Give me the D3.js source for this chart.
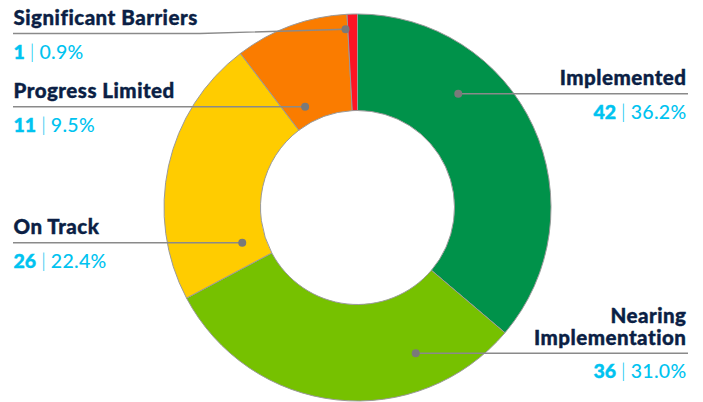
<!DOCTYPE html>
<html><head><meta charset="utf-8">
<script src="https://cdn.jsdelivr.net/npm/d3@7"></script>
<style>html,body{margin:0;padding:0;background:#fff;}svg{display:block;}</style>
</head><body>
<svg id="chart" width="703" height="402"></svg>
<script>
// ---- data ----
const categories = ["Implemented", "Nearing Implementation", "On Track", "Progress Limited", "Significant Barriers"];
const counts = [42, 36, 26, 11, 1];
const percentLabels = ["36.2%", "31.0%", "22.4%", "9.5%", "0.9%"];
const colors = ["#00924a", "#76c100", "#ffcc00", "#fa7c00", "#fe1424"];
const labelLines = [["Implemented"], ["Nearing", "Implementation"], ["On Track"], ["Progress Limited"], ["Significant Barriers"]];

// ---- layout ----
const W = 703, H = 402;
const cx = 357.5, cy = 207.5, rOuter = 193.5, rInner = 97;
// side: 1 right, -1 left; uy: underline y; dy: dot y; dr: dot radius from centre
const layout = [
  {side: 1, uy: 93.7, dy: 93.7, dr: 152},
  {side: 1, uy: 353.3, dy: 353.3, dr: 157},
  {side: -1, uy: 242.7, dy: 242.7, dr: 120.5},
  {side: -1, uy: 106.7, dy: 106.7, dr: 113.6},
  {side: -1, uy: 33.5, dy: 29.3, dr: 178.6, bend: 200}
];
const leftX = 13, rightX = 688;
const navy = "#0b1f45", cyan = "#00c3f0";

const svg = d3.select("#chart");
const g = svg.append("g").attr("transform", `translate(${cx},${cy})`);

const pie = d3.pie().sort(null).value(d => d)(counts);
const arc = d3.arc().innerRadius(rInner).outerRadius(rOuter);

g.selectAll("path.slice").data(pie).join("path")
  .attr("class", "slice")
  .attr("d", arc)
  .attr("fill", (d, i) => colors[i])
  .attr("stroke", "#9a9a9a")
  .attr("stroke-width", 1);

// labels
const font = "Lato, 'Open Sans', sans-serif";
categories.forEach((c, i) => {
  const L = layout[i];
  const ddy = L.dy - cy;
  const dotX = cx + L.side * Math.sqrt(L.dr * L.dr - ddy * ddy);
  const endX = L.side === 1 ? rightX : leftX;
  const pts = [[endX, L.uy]];
  if (L.bend) pts.push([L.bend, L.uy]);
  pts.push([dotX, L.dy]);
  svg.append("path")
    .attr("d", d3.line()(pts))
    .attr("fill", "none")
    .attr("stroke", "#8a8a8a")
    .attr("stroke-width", 1.4);
  svg.append("circle").attr("cx", dotX).attr("cy", L.dy).attr("r", 4).attr("fill", "#7a7a7a");

  const anchor = L.side === 1 ? "end" : "start";
  const tx = L.side === 1 ? rightX - 1.5 : leftX + 0.5;
  const lines = labelLines[i];
  lines.forEach((ln, k) => {
    svg.append("text")
      .attr("x", tx)
      .attr("y", L.uy - 8.7 - (lines.length - 1 - k) * 21.7)
      .attr("text-anchor", anchor)
      .attr("font-family", font)
      .attr("font-weight", 900)
      .attr("font-size", 20.5)
      .attr("letter-spacing", 0.5)
      .attr("fill", navy)
      .attr("stroke", navy)
      .attr("stroke-width", 0.4)
      .text(ln);
  });
  const vt = svg.append("text")
    .attr("x", tx)
    .attr("y", L.uy + 25)
    .attr("text-anchor", anchor)
    .attr("font-family", font)
    .attr("font-size", 19.5)
    .attr("fill", cyan);
  vt.append("tspan").attr("font-weight", 900).attr("stroke", cyan).attr("stroke-width", 0.4).text(counts[i]);
  vt.append("tspan").attr("font-weight", 300).attr("dx", 5).text("|");
  vt.append("tspan").attr("font-weight", 500).attr("dx", 5).attr("letter-spacing", 0.3).text(percentLabels[i]);
});
</script>
</body></html>
